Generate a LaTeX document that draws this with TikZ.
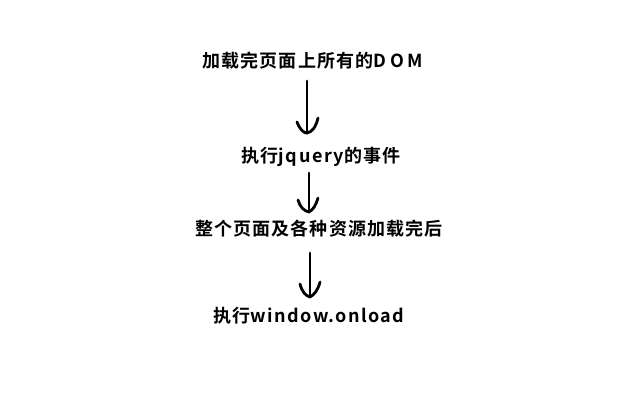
\documentclass[tikz,border=0pt]{standalone}
\usepackage{fontspec}
\setmainfont{Noto Sans CJK SC}[BoldFont={* Bold},LetterSpace=6]
\begin{document}
\begin{tikzpicture}[x=1pt,y=-1pt,
  lbl/.style={font=\fontsize{18}{20}\selectfont\bfseries,inner sep=0pt,anchor=center},
  hand/.style={line width=2.8pt,line cap=round,line join=round,black}]
\useasboundingbox (0,0) rectangle (640,400);
\node[lbl] (t1) at (313,61) {加载完页面上所有的{\addfontfeature{LetterSpace=22}DOM}};
\node[lbl] (t2) at (321,157) {执行{\addfontfeature{LetterSpace=9}jquery}的事件};
\node[lbl] (t3) at (319,229) {整个页面及各种资源加载完后};
\node[lbl] (t4) at (309,316) {执行{\addfontfeature{LetterSpace=8}window.onload}};
% arrow 1
\coordinate (a1s) at (307,81);
\coordinate (a1e) at (307,133);
\draw[hand] (a1s) -- (a1e);
\draw[hand] (297,122) .. controls (300,130) and (304,133) .. (a1e) .. controls (312,132) and (316,127) .. (318,118);
% arrow 2
\coordinate (a2s) at (309,173);
\coordinate (a2e) at (309,212);
\draw[hand] (a2s) -- (a2e);
\draw[hand] (298,200) .. controls (300,207) and (304,211) .. (a2e) .. controls (313,210) and (316,205) .. (318,198);
% arrow 3
\coordinate (a3s) at (310,253);
\coordinate (a3e) at (310,297);
\draw[hand] (a3s) -- (a3e);
\draw[hand] (300,284) .. controls (302,292) and (306,296) .. (a3e) .. controls (314,295) and (318,290) .. (320,282);
\end{tikzpicture}
\end{document}
